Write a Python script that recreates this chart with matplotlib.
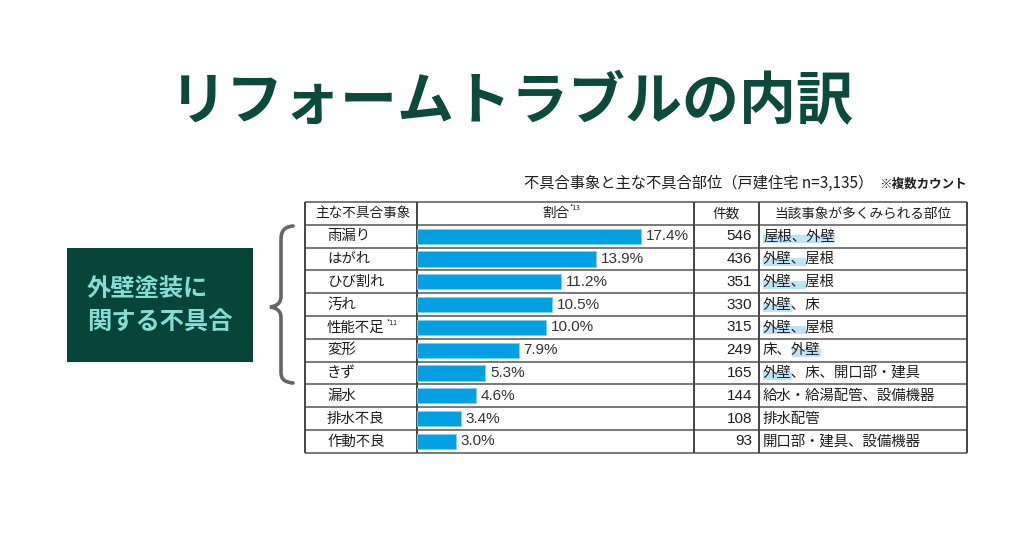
import matplotlib.pyplot as plt
from matplotlib.patches import Rectangle, PathPatch
from matplotlib.path import Path

plt.rcParams['font.family'] = ['Noto Sans CJK JP', 'DejaVu Sans']

title = 'リフォームトラブルの内訳'
subtitle = '不具合事象と主な不具合部位（戸建住宅 n=3,135）'
subnote = '※複数カウント'
headers = ['主な不具合事象', '割合', '件数', '当該事象が多くみられる部位']
categories = ['雨漏り', 'はがれ', 'ひび割れ', '汚れ', '性能不足', '変形', 'きず', '漏水', '排水不良', '作動不良']
notes = ['', '', '', '', '*11', '', '', '', '', '']
shares = [17.4, 13.9, 11.2, 10.5, 10.0, 7.9, 5.3, 4.6, 3.4, 3.0]
counts = [546, 436, 351, 330, 315, 249, 165, 144, 108, 93]
parts = ['屋根、外壁', '外壁、屋根', '外壁、屋根', '外壁、床', '外壁、屋根', '床、外壁',
         '外壁、床、開口部・建具', '給水・給湯配管、設備機器', '排水配管', '開口部・建具、設備機器']
# marker strokes over the parts text (char ranges)
marks = [(0, 5), (0, 3), (0, 3), (0, 2), (0, 3), (2, 4), (0, 2), None, None, None]
box_text = '外壁塗装に\n関する不具合'

green = '#0b4a3c'
bar_blue = '#00a0e3'
line_col = '#555555'
txt = '#1e1e1e'

W, H = 1024, 538
fig = plt.figure(figsize=(W / 100, H / 100), dpi=100)
ax = fig.add_axes([0, 0, 1, 1])
ax.set_xlim(0, W)
ax.set_ylim(H, 0)
ax.axis('off')

# title
ax.text(W / 2, 102, title, ha='center', va='center', fontsize=41,
        fontweight='bold', color=green)

# table geometry
cols = [305, 417, 694, 759, 967]
top = 202
rh = 22.8
nrow = len(categories)
bottom = top + rh * (nrow + 1)

ax.text(cols[-1] - 94, 183, subtitle, ha='right', va='center', fontsize=11, color=txt)
ax.text(cols[-1], 184, subnote, ha='right', va='center', fontsize=9, color=txt,
        fontweight='bold')

for k in range(nrow + 2):
    ax.hlines(top + k * rh, cols[0], cols[-1], color=line_col, lw=1.1, zorder=3)
for x in cols:
    ax.vlines(x, top, bottom, color='#444444', lw=1.4, zorder=3)

hy = top + rh / 2
ax.text(cols[0] + 10, hy, headers[0], ha='left', va='center', fontsize=9.8, color=txt)
ax.text((cols[1] + cols[2]) / 2, hy, headers[1], ha='center', va='center', fontsize=9.8, color=txt)
ax.text((cols[1] + cols[2]) / 2 + 14, hy - 5, '*13', ha='left', va='center', fontsize=5, color=txt)
ax.text((cols[2] + cols[3]) / 2, hy, headers[2], ha='center', va='center', fontsize=9.8, color=txt)
ax.text((cols[3] + cols[4]) / 2, hy, headers[3], ha='center', va='center', fontsize=9.8, color=txt)

fs = 10.4
cw = fs * 100 / 72
for i in range(nrow):
    y = top + rh * (i + 1.5)
    ax.text(cols[0] + 22, y, categories[i], ha='left', va='center', fontsize=fs, color=txt)
    if notes[i]:
        ax.text(cols[0] + 22 + cw * len(categories[i]) + 2, y - 4, notes[i], ha='left',
                va='center', fontsize=5, color=txt)
    ax.text(cols[3] - 7, y, str(counts[i]), ha='right', va='center', fontsize=11,
            family=['Liberation Sans', 'DejaVu Sans'], color=txt)
    if marks[i]:
        s, e = marks[i]
        ax.add_patch(Rectangle((cols[3] + 4 + s * cw, y - 1), (e - s) * cw, 8,
                               color='#bfe3f6', lw=0, zorder=1))
    ax.text(cols[3] + 4, y, parts[i], ha='left', va='center', fontsize=fs, color=txt, zorder=2)

# bars
bax = fig.add_axes([cols[1] / W, 1 - bottom / H, (cols[2] - cols[1]) / W, rh * nrow / H])
bax.barh(range(nrow), shares, height=0.66, color=bar_blue, edgecolor='#7fcff0', lw=0.6)
bax.set_xlim(0, (cols[2] - cols[1]) / 12.9)
bax.set_ylim(nrow - 0.5, -0.5)
bax.axis('off')
for i, v in enumerate(shares):
    bax.text(v + 0.35, i, f'{v:.1f}%', ha='left', va='center', fontsize=11,
             family=['Liberation Sans', 'DejaVu Sans'], color='#333333')

# green label box
ax.add_patch(Rectangle((67, 248), 186, 114, color='#07443a', lw=0))
ax.text(87, 306, box_text, ha='left', va='center', fontsize=17.5, fontweight='bold',
        color='#86dcd6', linespacing=1.55)

# curly brace
bx, tx = 281, 270
verts = [(293, 226), (284, 227), (bx, 231), (bx, 240),
         (bx, 296),
         (bx, 303), (277, 306), (tx, 307),
         (277, 308), (bx, 311), (bx, 318),
         (bx, 372),
         (bx, 379), (284, 382), (293, 383)]
codes = [Path.MOVETO, Path.CURVE4, Path.CURVE4, Path.CURVE4,
         Path.LINETO,
         Path.CURVE4, Path.CURVE4, Path.CURVE4,
         Path.CURVE4, Path.CURVE4, Path.CURVE4,
         Path.LINETO,
         Path.CURVE4, Path.CURVE4, Path.CURVE4]
ax.add_patch(PathPatch(Path(verts, codes), fill=False, edgecolor='#666666', lw=2.6,
                       capstyle='round'))

fig.savefig('out.png', dpi=100)
